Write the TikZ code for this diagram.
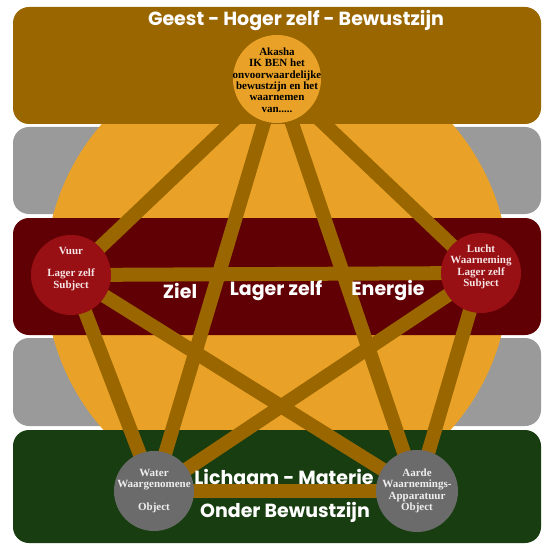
\documentclass[tikz,border=0pt]{standalone}
\usepackage{fontspec}
\setmainfont{Liberation Serif}
\newfontfamily\bandfont{Poppins}
\usetikzlibrary{backgrounds}
\pgfdeclarelayer{bands}
\pgfdeclarelayer{edges}
\pgfsetlayers{bands,edges,main}
\definecolor{brownc}{RGB}{153,102,0}
\definecolor{grayband}{RGB}{154,154,154}
\definecolor{redband}{RGB}{97,0,4}
\definecolor{greenband}{RGB}{23,61,16}
\definecolor{orangec}{RGB}{233,162,39}
\definecolor{nodered}{RGB}{152,15,20}
\definecolor{nodegray}{RGB}{107,107,107}
\definecolor{redtext}{RGB}{245,228,228}
\definecolor{graytext}{RGB}{238,238,238}
\tikzset{
  band/.style={rounded corners=16pt},
  elem/.style={circle, inner sep=0pt, minimum size=#1},
  elemtext/.style={inner sep=0pt, align=center, font=\fontsize{11}{11.4}\selectfont\bfseries},
  edge/.style={draw=brownc, line width=14pt},
  bigtext/.style={text=white, font=\bandfont\fontsize{19}{22}\selectfont\bfseries, inner sep=0pt}
}
\begin{document}
\begin{tikzpicture}[x=1pt,y=-1pt]
\useasboundingbox (0,0) rectangle (543,545);
\begin{pgfonlayer}{bands}
  \fill[white] (0,0) rectangle (543,545);
  \fill[grayband, band] (13,127) rectangle (541,214);
  \fill[grayband, band] (13,338) rectangle (541,426);
  \fill[orangec] (277,276) circle[radius=232];
  \fill[brownc, band] (13,7) rectangle (541,124);
  \fill[redband, band] (13,218) rectangle (541,335);
  \fill[greenband, band] (13,430) rectangle (541,543);
\end{pgfonlayer}

\node[elem=88pt, fill=orangec] (ak) at (277,79) {};
\node[elemtext, text=black] (akt) at ([yshift=-1pt]ak.center)
  {Akasha\\IK BEN het\\onvoorwaardelijke\\bewustzijn en het\\waarnemen\\van.....};
\node[elem=80pt, fill=nodered] (vu) at (71,275) {};
\node[elemtext, text=redtext] (vut) at (vu.center)
  {Vuur\\\strut\\Lager zelf\\Subject\\\strut};
\node[elem=80pt, fill=nodered] (lu) at (481,273) {};
\node[elemtext, text=redtext] (lut) at (lu.center)
  {Lucht\\Waarneming\\Lager zelf\\Subject\\\strut};
\node[elem=80pt, fill=nodegray] (wa) at (154,491) {};
\node[elemtext, text=graytext] (wat) at (wa.center)
  {Water\\Waargenomene\\\strut\\Object};
\node[elem=82pt, fill=nodegray] (aa) at (417,491) {};
\node[elemtext, text=graytext] (aat) at (aa.center)
  {Aarde\\Waarnemings-\\Apparatuur\\Object};

\begin{pgfonlayer}{edges}
  \foreach \a/\b in {ak/vu, ak/lu, ak/wa, ak/aa, vu/lu, vu/wa, vu/aa, lu/wa, lu/aa, wa/aa}
    \draw[edge] (\a.center) -- (\b.center);
\end{pgfonlayer}

\node[bigtext] (title) at (296,21) {Geest - Hoger zelf - Bewustzijn};
\node[bigtext] (ziel) at (180,291) {Ziel};
\node[bigtext] (lager) at (276,291) {Lager zelf};
\node[bigtext] (energie) at (388,291) {Energie};
\node[bigtext] (lichaam) at (284,477) {Lichaam - Materie};
\node[bigtext] (onder) at (285,512) {Onder Bewustzijn};
\end{tikzpicture}
\end{document}
